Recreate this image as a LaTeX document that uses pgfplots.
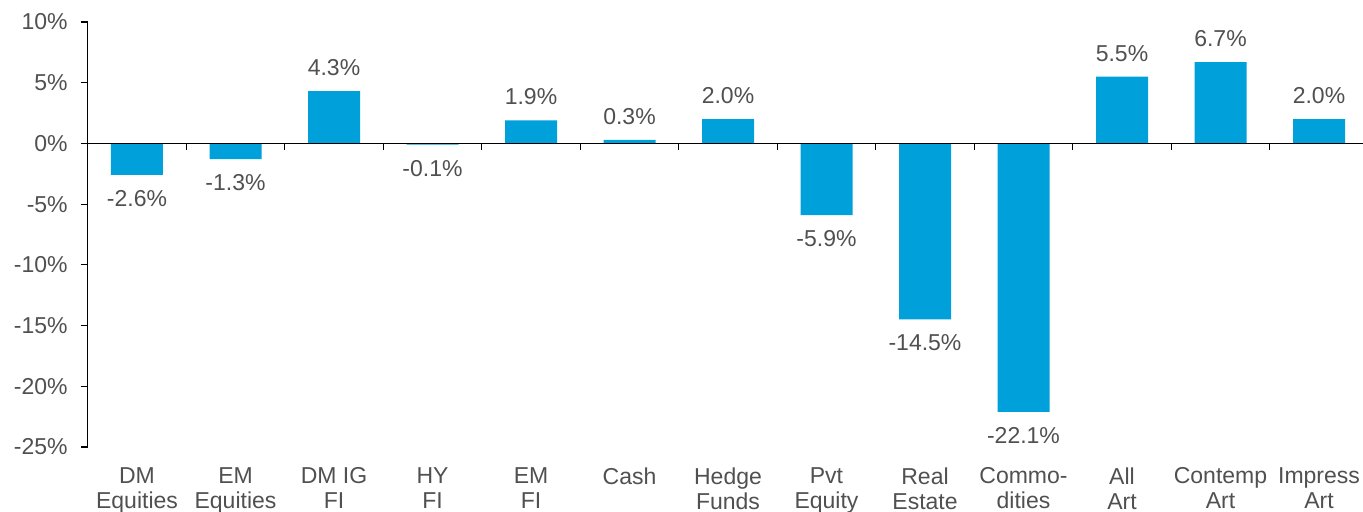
\documentclass[border=0pt]{standalone}
\usepackage{pgfplots}
\pgfplotsset{compat=1.18}
\usepackage{fontspec}
\setmainfont{Liberation Sans}
\definecolor{barblue}{HTML}{00A0DA}
\definecolor{txt}{HTML}{505050}
\newcommand{\lblfont}{\fontsize{11.5}{12.5}\selectfont}
\begin{document}
\begin{tikzpicture}
\begin{axis}[
  scale only axis, width=640.25pt, height=212.5pt,
  xmin=-0.5, xmax=12.5, ymin=-25, ymax=10,
  axis lines*=left,
  x axis line style={draw=none},
  y axis line style={black, line width=0.6pt},
  xtick={0,...,12},
  xticklabels={{DM\\Equities},{EM\\Equities},{DM IG\\FI},{HY\\FI},{EM\\FI},{Cash},{Hedge\\Funds},{Pvt\\Equity},{Real\\Estate},{Commo-\\dities},{All\\Art},{Contemp\\Art},{Impress\\Art}},
  xticklabel style={align=center, font=\lblfont, text=txt, yshift=-3.2pt},
  x tick style={draw=none},
  ytick={-25,-20,...,10},
  yticklabels={-25\%,-20\%,-15\%,-10\%,-5\%,0\%,5\%,10\%},
  yticklabel style={font=\lblfont, text=txt, xshift=-3pt},
  y tick style={black, line width=0.6pt},
  tick align=outside, major tick length=3.5pt,
  ybar, bar width=26pt, bar shift=0pt,
  nodes near coords={\pgfmathprintnumber[fixed,fixed zerofill,precision=1,assume math mode=true]{\pgfplotspointmeta}\%},
  nodes near coords style={font=\lblfont, text=txt, inner sep=7.5pt},
  clip=false,
]
\addplot[fill=barblue, draw=none] coordinates {
  (0,-2.6) (1,-1.3) (2,4.3) (3,-0.1) (4,1.9) (5,0.3) (6,2.0)
  (7,-5.9) (8,-14.5) (9,-22.1) (10,5.5) (11,6.7) (12,2.0)
};
\draw[black, line width=0.8pt] (axis cs:-0.5,0) -- (axis cs:12.5,0);
\pgfplotsinvokeforeach{0.5,1.5,...,11.5}{
  \draw[black, line width=0.6pt] (axis cs:#1,0) -- ++(0pt,-3.5pt);
}
\end{axis}
\pgfresetboundingbox
\path (-43.875pt,-32.5pt) rectangle (637.625pt,223.5pt);
\end{tikzpicture}
\end{document}
